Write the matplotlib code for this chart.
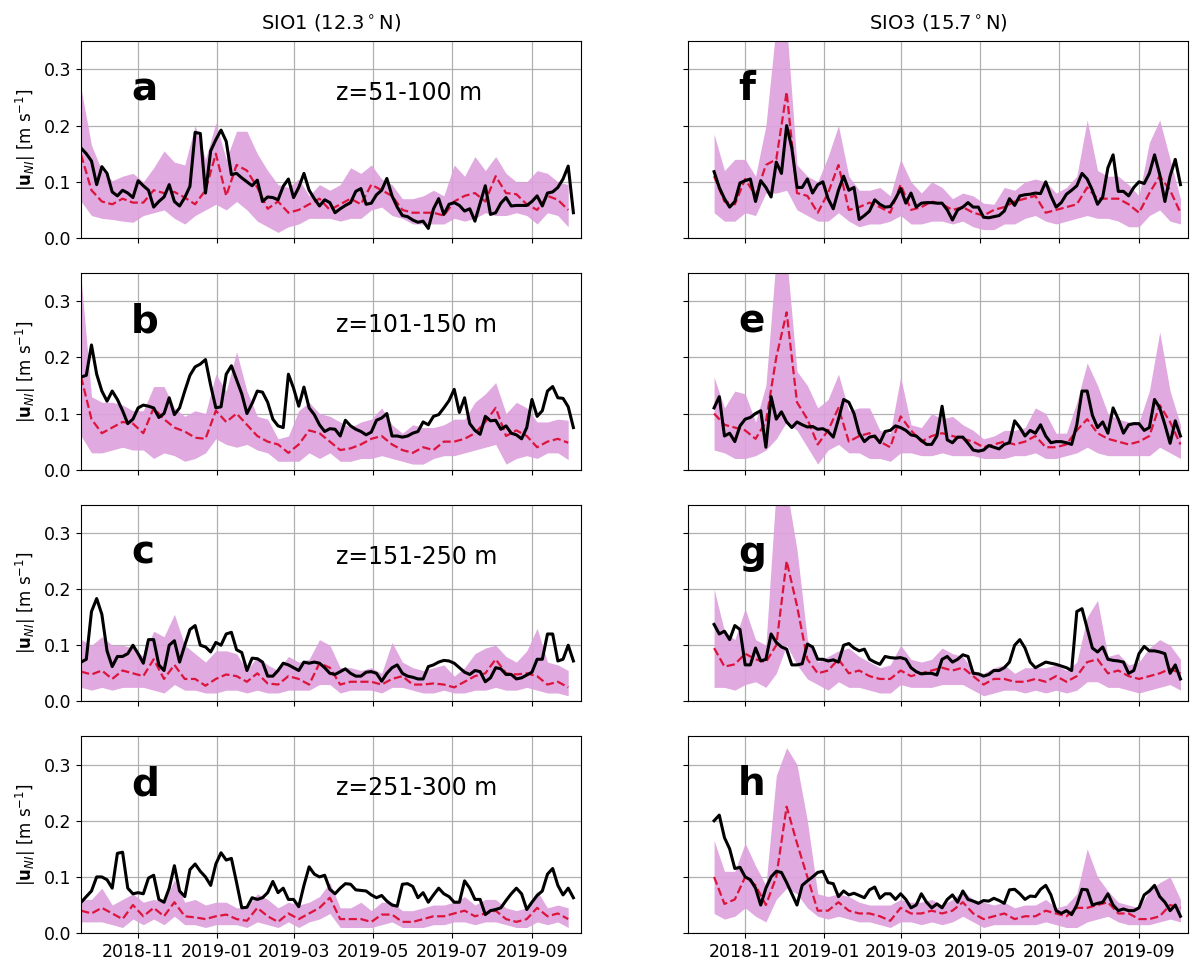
import numpy as np
import pandas as pd
import matplotlib
matplotlib.use("Agg")
import matplotlib.pyplot as plt
import matplotlib.dates as mdates

# ---- SIO1 (left column): observed speed, model median and model spread ----
sio1_obs = {
    "a": [0.160, 0.150, 0.137, 0.095, 0.127, 0.115, 0.082, 0.075, 0.085, 0.080,
          0.072, 0.102, 0.093, 0.085, 0.055, 0.065, 0.073, 0.095, 0.065, 0.057,
          0.072, 0.092, 0.188, 0.186, 0.080, 0.155, 0.175, 0.192, 0.172, 0.113,
          0.115, 0.107, 0.100, 0.093, 0.103, 0.065, 0.073, 0.072, 0.068, 0.092,
          0.105, 0.072, 0.090, 0.115, 0.085, 0.070, 0.057, 0.068, 0.063, 0.045,
          0.052, 0.058, 0.063, 0.083, 0.088, 0.060, 0.062, 0.077, 0.085, 0.106,
          0.075, 0.055, 0.040, 0.038, 0.032, 0.028, 0.030, 0.017, 0.052, 0.070,
          0.042, 0.060, 0.063, 0.058, 0.048, 0.052, 0.030, 0.062, 0.093, 0.042,
          0.045, 0.062, 0.072, 0.057, 0.058, 0.058, 0.058, 0.065, 0.075, 0.057,
          0.080, 0.082, 0.090, 0.105, 0.128, 0.045],
    "b": [0.165, 0.168, 0.222, 0.170, 0.140, 0.122, 0.140, 0.125, 0.105, 0.082,
          0.090, 0.110, 0.115, 0.113, 0.110, 0.093, 0.100, 0.128, 0.098, 0.110,
          0.140, 0.168, 0.183, 0.188, 0.196, 0.150, 0.110, 0.112, 0.170, 0.185,
          0.160, 0.135, 0.100, 0.118, 0.140, 0.138, 0.120, 0.090, 0.078, 0.075,
          0.170, 0.145, 0.113, 0.147, 0.110, 0.098, 0.080, 0.068, 0.073, 0.072,
          0.060, 0.088, 0.078, 0.072, 0.068, 0.062, 0.067, 0.088, 0.092, 0.100,
          0.060, 0.060, 0.058, 0.060, 0.065, 0.068, 0.085, 0.080, 0.095, 0.098,
          0.110, 0.123, 0.143, 0.102, 0.128, 0.082, 0.070, 0.063, 0.095, 0.087,
          0.088, 0.072, 0.078, 0.065, 0.062, 0.055, 0.075, 0.125, 0.095, 0.105,
          0.140, 0.148, 0.128, 0.127, 0.112, 0.075],
    "c": [0.070, 0.075, 0.160, 0.183, 0.155, 0.090, 0.062, 0.080, 0.080, 0.085,
          0.100, 0.085, 0.068, 0.110, 0.110, 0.065, 0.055, 0.100, 0.108, 0.070,
          0.100, 0.128, 0.135, 0.100, 0.097, 0.088, 0.105, 0.100, 0.120, 0.123,
          0.092, 0.087, 0.055, 0.077, 0.076, 0.070, 0.045, 0.045, 0.055, 0.068,
          0.065, 0.060, 0.055, 0.070, 0.068, 0.070, 0.068, 0.060, 0.050, 0.048,
          0.053, 0.058, 0.050, 0.045, 0.045, 0.052, 0.053, 0.050, 0.036, 0.050,
          0.060, 0.065, 0.050, 0.045, 0.043, 0.040, 0.040, 0.062, 0.065, 0.070,
          0.073, 0.072, 0.068, 0.060, 0.052, 0.048, 0.055, 0.053, 0.035, 0.042,
          0.060, 0.058, 0.048, 0.048, 0.040, 0.042, 0.047, 0.052, 0.075, 0.075,
          0.120, 0.120, 0.072, 0.075, 0.100, 0.072],
    "d": [0.055, 0.065, 0.075, 0.100, 0.100, 0.095, 0.080, 0.142, 0.144, 0.080,
          0.070, 0.072, 0.070, 0.098, 0.103, 0.060, 0.055, 0.080, 0.120, 0.075,
          0.065, 0.113, 0.123, 0.110, 0.100, 0.085, 0.123, 0.143, 0.130, 0.133,
          0.090, 0.045, 0.046, 0.063, 0.060, 0.063, 0.072, 0.092, 0.072, 0.080,
          0.060, 0.060, 0.047, 0.085, 0.118, 0.105, 0.100, 0.103, 0.078, 0.070,
          0.080, 0.088, 0.087, 0.077, 0.076, 0.075, 0.068, 0.063, 0.067, 0.057,
          0.050, 0.048, 0.087, 0.088, 0.083, 0.063, 0.072, 0.055, 0.068, 0.080,
          0.070, 0.065, 0.055, 0.055, 0.093, 0.080, 0.060, 0.060, 0.033, 0.040,
          0.042, 0.045, 0.058, 0.070, 0.080, 0.070, 0.042, 0.055, 0.067, 0.075,
          0.105, 0.115, 0.085, 0.068, 0.080, 0.063],
}
sio1_med = {
    "a": [0.148, 0.085, 0.065, 0.060, 0.070, 0.063, 0.063, 0.085, 0.080, 0.082,
          0.072, 0.060, 0.085, 0.150, 0.075, 0.130, 0.120, 0.090, 0.052, 0.065,
          0.045, 0.050, 0.060, 0.070, 0.050, 0.060, 0.070, 0.060, 0.095, 0.085,
          0.075, 0.050, 0.045, 0.045, 0.045, 0.040, 0.065, 0.075, 0.080, 0.065,
          0.110, 0.080, 0.078, 0.060, 0.050, 0.075, 0.068, 0.050],
    "b": [0.165, 0.090, 0.065, 0.075, 0.085, 0.082, 0.065, 0.110, 0.090, 0.075,
          0.068, 0.057, 0.055, 0.105, 0.085, 0.100, 0.080, 0.060, 0.050, 0.045,
          0.030, 0.045, 0.070, 0.065, 0.050, 0.035, 0.038, 0.045, 0.055, 0.060,
          0.045, 0.035, 0.030, 0.040, 0.035, 0.050, 0.050, 0.055, 0.065, 0.085,
          0.110, 0.060, 0.070, 0.060, 0.040, 0.050, 0.055, 0.048],
    "c": [0.053, 0.048, 0.055, 0.040, 0.055, 0.050, 0.045, 0.075, 0.040, 0.065,
          0.040, 0.040, 0.028, 0.040, 0.048, 0.045, 0.035, 0.050, 0.032, 0.030,
          0.045, 0.040, 0.030, 0.068, 0.060, 0.030, 0.035, 0.035, 0.035, 0.030,
          0.040, 0.045, 0.030, 0.030, 0.032, 0.030, 0.025, 0.035, 0.045, 0.050,
          0.075, 0.050, 0.048, 0.050, 0.045, 0.030, 0.035, 0.025],
    "d": [0.040, 0.035, 0.045, 0.035, 0.025, 0.050, 0.030, 0.045, 0.030, 0.055,
          0.030, 0.028, 0.025, 0.030, 0.033, 0.025, 0.022, 0.045, 0.030, 0.020,
          0.035, 0.025, 0.035, 0.045, 0.063, 0.025, 0.025, 0.025, 0.020, 0.033,
          0.033, 0.020, 0.020, 0.025, 0.030, 0.030, 0.035, 0.040, 0.030, 0.035,
          0.040, 0.025, 0.020, 0.025, 0.045, 0.030, 0.035, 0.025],
}
sio1_lo = {
    "a": [0.065, 0.040, 0.035, 0.033, 0.030, 0.028, 0.040, 0.045, 0.050, 0.035,
          0.025, 0.040, 0.050, 0.060, 0.050, 0.065, 0.050, 0.030, 0.020, 0.010,
          0.020, 0.025, 0.035, 0.035, 0.035, 0.030, 0.035, 0.035, 0.050, 0.055,
          0.040, 0.035, 0.025, 0.025, 0.025, 0.025, 0.035, 0.030, 0.035, 0.045,
          0.040, 0.040, 0.045, 0.040, 0.025, 0.045, 0.040, 0.020],
    "b": [0.060, 0.030, 0.030, 0.035, 0.040, 0.035, 0.035, 0.020, 0.030, 0.025,
          0.015, 0.020, 0.030, 0.055, 0.045, 0.040, 0.045, 0.035, 0.030, 0.015,
          0.015, 0.015, 0.030, 0.020, 0.030, 0.015, 0.015, 0.020, 0.020, 0.025,
          0.020, 0.015, 0.010, 0.010, 0.020, 0.025, 0.025, 0.030, 0.035, 0.040,
          0.045, 0.010, 0.020, 0.025, 0.020, 0.030, 0.030, 0.018],
    "c": [0.025, 0.020, 0.025, 0.020, 0.025, 0.025, 0.025, 0.020, 0.015, 0.030,
          0.020, 0.020, 0.015, 0.015, 0.020, 0.020, 0.015, 0.020, 0.015, 0.015,
          0.020, 0.020, 0.020, 0.030, 0.030, 0.015, 0.020, 0.020, 0.020, 0.015,
          0.025, 0.025, 0.020, 0.015, 0.015, 0.020, 0.015, 0.015, 0.020, 0.020,
          0.025, 0.020, 0.020, 0.025, 0.020, 0.015, 0.015, 0.010],
    "d": [0.020, 0.020, 0.020, 0.015, 0.010, 0.025, 0.015, 0.025, 0.015, 0.030,
          0.015, 0.015, 0.010, 0.015, 0.015, 0.015, 0.010, 0.020, 0.015, 0.010,
          0.020, 0.010, 0.020, 0.025, 0.035, 0.010, 0.010, 0.010, 0.010, 0.015,
          0.020, 0.010, 0.010, 0.010, 0.015, 0.015, 0.020, 0.020, 0.015, 0.020,
          0.020, 0.015, 0.010, 0.010, 0.020, 0.015, 0.020, 0.010],
}
sio1_hi = {
    "a": [0.265, 0.165, 0.120, 0.102, 0.110, 0.115, 0.100, 0.125, 0.155, 0.135,
          0.130, 0.200, 0.140, 0.205, 0.140, 0.190, 0.190, 0.150, 0.120, 0.095,
          0.090, 0.105, 0.075, 0.095, 0.085, 0.095, 0.125, 0.115, 0.130, 0.105,
          0.095, 0.070, 0.070, 0.075, 0.085, 0.075, 0.130, 0.110, 0.145, 0.120,
          0.145, 0.115, 0.100, 0.100, 0.120, 0.115, 0.100, 0.095],
    "b": [0.340, 0.130, 0.120, 0.120, 0.115, 0.105, 0.105, 0.148, 0.148, 0.110,
          0.095, 0.105, 0.100, 0.170, 0.140, 0.210, 0.140, 0.095, 0.090, 0.055,
          0.060, 0.105, 0.120, 0.100, 0.095, 0.085, 0.075, 0.085, 0.090, 0.110,
          0.080, 0.065, 0.080, 0.075, 0.075, 0.080, 0.090, 0.090, 0.120, 0.135,
          0.155, 0.100, 0.120, 0.110, 0.085, 0.085, 0.090, 0.088],
    "c": [0.110, 0.100, 0.115, 0.100, 0.100, 0.095, 0.080, 0.125, 0.115, 0.155,
          0.100, 0.085, 0.070, 0.090, 0.090, 0.085, 0.055, 0.080, 0.065, 0.055,
          0.080, 0.070, 0.075, 0.110, 0.100, 0.060, 0.060, 0.055, 0.060, 0.050,
          0.105, 0.070, 0.060, 0.055, 0.060, 0.065, 0.045, 0.060, 0.085, 0.095,
          0.100, 0.080, 0.070, 0.090, 0.130, 0.070, 0.065, 0.055],
    "d": [0.060, 0.060, 0.080, 0.050, 0.060, 0.070, 0.055, 0.060, 0.055, 0.095,
          0.055, 0.060, 0.050, 0.055, 0.055, 0.045, 0.045, 0.070, 0.060, 0.045,
          0.055, 0.050, 0.055, 0.065, 0.090, 0.045, 0.045, 0.055, 0.040, 0.055,
          0.055, 0.040, 0.040, 0.045, 0.050, 0.050, 0.055, 0.065, 0.050, 0.060,
          0.060, 0.045, 0.040, 0.045, 0.075, 0.045, 0.050, 0.045],
}

# ---- SIO3 (right column) ----
sio3_obs = {
    "f": [0.118, 0.090, 0.070, 0.055, 0.065, 0.098, 0.102, 0.105, 0.065, 0.102,
          0.090, 0.073, 0.135, 0.115, 0.200, 0.160, 0.090, 0.090, 0.105, 0.080,
          0.095, 0.100, 0.070, 0.052, 0.085, 0.110, 0.085, 0.090, 0.033, 0.040,
          0.048, 0.068, 0.060, 0.055, 0.056, 0.070, 0.088, 0.062, 0.080, 0.055,
          0.062, 0.063, 0.063, 0.062, 0.062, 0.050, 0.032, 0.050, 0.055, 0.063,
          0.055, 0.055, 0.037, 0.036, 0.038, 0.040, 0.048, 0.070, 0.058, 0.075,
          0.077, 0.078, 0.080, 0.079, 0.100, 0.075, 0.055, 0.063, 0.078, 0.085,
          0.093, 0.115, 0.105, 0.085, 0.060, 0.073, 0.125, 0.148, 0.083, 0.083,
          0.075, 0.090, 0.100, 0.097, 0.115, 0.148, 0.113, 0.065, 0.110, 0.140,
          0.095],
    "e": [0.110, 0.130, 0.060, 0.065, 0.050, 0.078, 0.090, 0.093, 0.100, 0.105,
          0.040, 0.130, 0.090, 0.103, 0.085, 0.075, 0.085, 0.080, 0.076, 0.077,
          0.072, 0.073, 0.068, 0.058, 0.090, 0.125, 0.120, 0.100, 0.065, 0.050,
          0.058, 0.060, 0.048, 0.068, 0.070, 0.078, 0.075, 0.070, 0.062, 0.060,
          0.052, 0.045, 0.045, 0.060, 0.113, 0.053, 0.048, 0.058, 0.058, 0.047,
          0.035, 0.033, 0.035, 0.043, 0.040, 0.037, 0.045, 0.048, 0.087, 0.075,
          0.060, 0.070, 0.065, 0.080, 0.060, 0.048, 0.050, 0.050, 0.048, 0.045,
          0.080, 0.140, 0.140, 0.097, 0.075, 0.085, 0.065, 0.110, 0.090, 0.065,
          0.080, 0.082, 0.082, 0.070, 0.075, 0.125, 0.110, 0.080, 0.047, 0.087,
          0.060],
    "g": [0.137, 0.120, 0.125, 0.110, 0.135, 0.128, 0.065, 0.065, 0.095, 0.072,
          0.075, 0.120, 0.105, 0.097, 0.093, 0.065, 0.065, 0.067, 0.102, 0.097,
          0.075, 0.075, 0.072, 0.074, 0.070, 0.100, 0.103, 0.095, 0.090, 0.093,
          0.075, 0.070, 0.066, 0.080, 0.078, 0.077, 0.078, 0.075, 0.060, 0.053,
          0.049, 0.050, 0.050, 0.047, 0.075, 0.080, 0.070, 0.075, 0.083, 0.080,
          0.050, 0.049, 0.045, 0.048, 0.055, 0.055, 0.060, 0.070, 0.100, 0.110,
          0.095, 0.070, 0.060, 0.065, 0.070, 0.068, 0.066, 0.063, 0.060, 0.055,
          0.160, 0.165, 0.130, 0.095, 0.088, 0.097, 0.075, 0.073, 0.072, 0.070,
          0.050, 0.055, 0.085, 0.098, 0.090, 0.090, 0.088, 0.085, 0.050, 0.065,
          0.040],
    "h": [0.200, 0.210, 0.170, 0.150, 0.115, 0.117, 0.100, 0.095, 0.080, 0.050,
          0.080, 0.100, 0.110, 0.108, 0.090, 0.070, 0.050, 0.085, 0.093, 0.100,
          0.108, 0.110, 0.090, 0.088, 0.065, 0.075, 0.068, 0.071, 0.067, 0.063,
          0.077, 0.082, 0.062, 0.070, 0.070, 0.060, 0.070, 0.060, 0.045, 0.050,
          0.070, 0.055, 0.045, 0.052, 0.045, 0.060, 0.068, 0.055, 0.075, 0.060,
          0.057, 0.053, 0.058, 0.057, 0.062, 0.058, 0.053, 0.077, 0.078, 0.070,
          0.060, 0.066, 0.065, 0.078, 0.085, 0.068, 0.040, 0.035, 0.040, 0.033,
          0.050, 0.078, 0.077, 0.050, 0.053, 0.055, 0.070, 0.050, 0.040, 0.043,
          0.040, 0.040, 0.045, 0.068, 0.075, 0.085, 0.065, 0.055, 0.040, 0.050,
          0.030],
}
sio3_med = {
    "f": [0.110, 0.065, 0.060, 0.105, 0.075, 0.130, 0.140, 0.260, 0.080, 0.075,
          0.045, 0.080, 0.130, 0.050, 0.055, 0.063, 0.055, 0.045, 0.095, 0.050,
          0.055, 0.065, 0.060, 0.050, 0.055, 0.045, 0.040, 0.050, 0.055, 0.065,
          0.070, 0.075, 0.045, 0.050, 0.055, 0.060, 0.090, 0.070, 0.070, 0.070,
          0.060, 0.045, 0.080, 0.110, 0.085, 0.045],
    "e": [0.100, 0.080, 0.075, 0.070, 0.055, 0.085, 0.200, 0.280, 0.120, 0.090,
          0.045, 0.070, 0.110, 0.050, 0.060, 0.065, 0.050, 0.040, 0.095, 0.070,
          0.050, 0.060, 0.065, 0.060, 0.055, 0.050, 0.040, 0.045, 0.050, 0.045,
          0.050, 0.060, 0.040, 0.040, 0.045, 0.070, 0.090, 0.065, 0.055, 0.050,
          0.045, 0.050, 0.060, 0.115, 0.085, 0.045],
    "g": [0.095, 0.062, 0.066, 0.085, 0.075, 0.070, 0.100, 0.250, 0.170, 0.075,
          0.050, 0.055, 0.075, 0.050, 0.055, 0.045, 0.040, 0.040, 0.055, 0.045,
          0.050, 0.055, 0.060, 0.055, 0.060, 0.045, 0.030, 0.040, 0.040, 0.035,
          0.035, 0.040, 0.035, 0.045, 0.035, 0.045, 0.070, 0.075, 0.050, 0.055,
          0.045, 0.040, 0.045, 0.050, 0.058, 0.050],
    "h": [0.100, 0.052, 0.060, 0.100, 0.085, 0.050, 0.100, 0.225, 0.160, 0.100,
          0.040, 0.040, 0.055, 0.040, 0.035, 0.035, 0.030, 0.022, 0.045, 0.035,
          0.035, 0.040, 0.035, 0.040, 0.055, 0.035, 0.025, 0.030, 0.035, 0.025,
          0.030, 0.030, 0.040, 0.035, 0.030, 0.045, 0.045, 0.050, 0.055, 0.035,
          0.035, 0.025, 0.025, 0.030, 0.050, 0.045],
}
sio3_lo = {
    "f": [0.045, 0.030, 0.030, 0.045, 0.040, 0.080, 0.080, 0.085, 0.050, 0.040,
          0.030, 0.030, 0.045, 0.030, 0.020, 0.025, 0.025, 0.030, 0.040, 0.025,
          0.025, 0.030, 0.030, 0.025, 0.030, 0.020, 0.015, 0.015, 0.025, 0.025,
          0.035, 0.040, 0.030, 0.025, 0.030, 0.035, 0.040, 0.035, 0.035, 0.030,
          0.020, 0.020, 0.040, 0.050, 0.030, 0.025],
    "e": [0.035, 0.030, 0.020, 0.020, 0.025, 0.035, 0.055, 0.085, 0.070, 0.040,
          0.010, 0.035, 0.045, 0.030, 0.030, 0.020, 0.020, 0.015, 0.030, 0.030,
          0.025, 0.025, 0.030, 0.025, 0.025, 0.025, 0.020, 0.020, 0.020, 0.025,
          0.025, 0.030, 0.020, 0.020, 0.025, 0.030, 0.040, 0.030, 0.025, 0.025,
          0.025, 0.025, 0.025, 0.040, 0.030, 0.020],
    "g": [0.025, 0.025, 0.020, 0.030, 0.035, 0.025, 0.050, 0.100, 0.065, 0.040,
          0.030, 0.020, 0.035, 0.025, 0.025, 0.020, 0.015, 0.015, 0.030, 0.025,
          0.025, 0.025, 0.030, 0.030, 0.030, 0.020, 0.010, 0.015, 0.020, 0.020,
          0.015, 0.020, 0.015, 0.020, 0.015, 0.020, 0.035, 0.035, 0.025, 0.025,
          0.020, 0.015, 0.020, 0.025, 0.030, 0.020],
    "h": [0.035, 0.025, 0.030, 0.045, 0.030, 0.020, 0.060, 0.080, 0.070, 0.045,
          0.030, 0.025, 0.030, 0.025, 0.020, 0.020, 0.015, 0.010, 0.020, 0.020,
          0.015, 0.020, 0.015, 0.020, 0.030, 0.020, 0.010, 0.015, 0.015, 0.015,
          0.015, 0.015, 0.020, 0.015, 0.010, 0.010, 0.020, 0.025, 0.030, 0.020,
          0.015, 0.015, 0.015, 0.020, 0.025, 0.020],
}
sio3_hi = {
    "f": [0.185, 0.120, 0.140, 0.140, 0.110, 0.200, 0.380, 0.380, 0.130, 0.110,
          0.100, 0.145, 0.200, 0.110, 0.085, 0.085, 0.090, 0.075, 0.140, 0.100,
          0.080, 0.100, 0.090, 0.070, 0.080, 0.075, 0.062, 0.060, 0.090, 0.085,
          0.100, 0.105, 0.100, 0.080, 0.090, 0.110, 0.210, 0.120, 0.110, 0.110,
          0.095, 0.075, 0.170, 0.210, 0.140, 0.070],
    "e": [0.165, 0.110, 0.140, 0.135, 0.085, 0.150, 0.380, 0.380, 0.175, 0.150,
          0.110, 0.125, 0.170, 0.105, 0.110, 0.110, 0.070, 0.065, 0.165, 0.080,
          0.075, 0.100, 0.090, 0.095, 0.080, 0.070, 0.055, 0.060, 0.070, 0.070,
          0.075, 0.110, 0.100, 0.065, 0.065, 0.120, 0.190, 0.150, 0.100, 0.090,
          0.085, 0.085, 0.140, 0.245, 0.140, 0.080],
    "g": [0.200, 0.125, 0.110, 0.165, 0.110, 0.100, 0.380, 0.380, 0.270, 0.110,
          0.070, 0.080, 0.090, 0.095, 0.080, 0.070, 0.060, 0.065, 0.100, 0.075,
          0.070, 0.075, 0.095, 0.085, 0.080, 0.055, 0.050, 0.060, 0.065, 0.050,
          0.060, 0.060, 0.060, 0.065, 0.055, 0.070, 0.150, 0.180, 0.080, 0.085,
          0.065, 0.070, 0.095, 0.110, 0.100, 0.075],
    "h": [0.165, 0.110, 0.110, 0.160, 0.120, 0.085, 0.280, 0.330, 0.300, 0.200,
          0.070, 0.065, 0.070, 0.065, 0.055, 0.050, 0.050, 0.050, 0.060, 0.055,
          0.055, 0.060, 0.050, 0.060, 0.075, 0.060, 0.055, 0.050, 0.055, 0.045,
          0.050, 0.050, 0.060, 0.045, 0.050, 0.070, 0.150, 0.100, 0.075, 0.055,
          0.050, 0.045, 0.075, 0.090, 0.100, 0.060],
}

depth_labels = ["z=51-100 m", "z=101-150 m", "z=151-250 m", "z=251-300 m"]
left_panels = ["a", "b", "c", "d"]
right_panels = ["f", "e", "g", "h"]
column_titles = ["SIO1 (12.3$^\\circ$N)", "SIO3 (15.7$^\\circ$N)"]

# time axes: 4-day observed series, 8-day model series
t_obs = {
    "left": pd.date_range("2018-09-18", periods=96, freq="4D"),
    "right": pd.date_range("2018-10-08", periods=91, freq="4D"),
}
t_mod = {
    "left": pd.date_range("2018-09-18", periods=48, freq="8D"),
    "right": pd.date_range("2018-10-08", periods=46, freq="8D"),
}

fig = plt.figure(figsize=(11.93, 9.61), dpi=100)
gs = fig.add_gridspec(4, 2, left=0.068, right=0.996, bottom=0.029, top=0.957,
                      wspace=0.214, hspace=0.178)
axes = gs.subplots(sharex=True, sharey=True)

columns = [
    ("left", left_panels, sio1_obs, sio1_med, sio1_lo, sio1_hi),
    ("right", right_panels, sio3_obs, sio3_med, sio3_lo, sio3_hi),
]

for col, (side, panels, obs, med, lo, hi) in enumerate(columns):
    for row, key in enumerate(panels):
        ax = axes[row, col]
        ax.fill_between(t_mod[side], lo[key], hi[key], color="plum",
                        alpha=0.9, linewidth=0)
        ax.plot(t_mod[side], med[key], color="crimson", ls="--", lw=1.6)
        ax.plot(t_obs[side], obs[key], color="black", lw=2.2)
        ax.grid(True, color="#b0b0b0", lw=0.9)
        ax.set_axisbelow(True)
        ax.text(0.1, 0.70, key, transform=ax.transAxes, fontsize=28,
                fontweight="bold", ha="left", va="baseline")
        if col == 0:
            ax.text(0.51, 0.70, depth_labels[row], transform=ax.transAxes,
                    fontsize=17, ha="left", va="baseline")
            ax.set_ylabel(r"$|\mathbf{u}_{NI}|$ [m s$^{-1}$]", fontsize=12)
        ax.tick_params(labelsize=12.5)
    axes[0, col].set_title(column_titles[col], fontsize=14, pad=9)

ax0 = axes[0, 0]
ax0.set_ylim(0, 0.35)
ax0.set_yticks([0.0, 0.1, 0.2, 0.3])
ax0.set_xlim(pd.Timestamp("2018-09-18"), pd.Timestamp("2019-10-09"))
ax0.xaxis.set_major_locator(mdates.MonthLocator(bymonth=[1, 3, 5, 7, 9, 11]))
ax0.xaxis.set_major_formatter(mdates.DateFormatter("%Y-%m"))

fig.savefig("out.png", dpi=100)
